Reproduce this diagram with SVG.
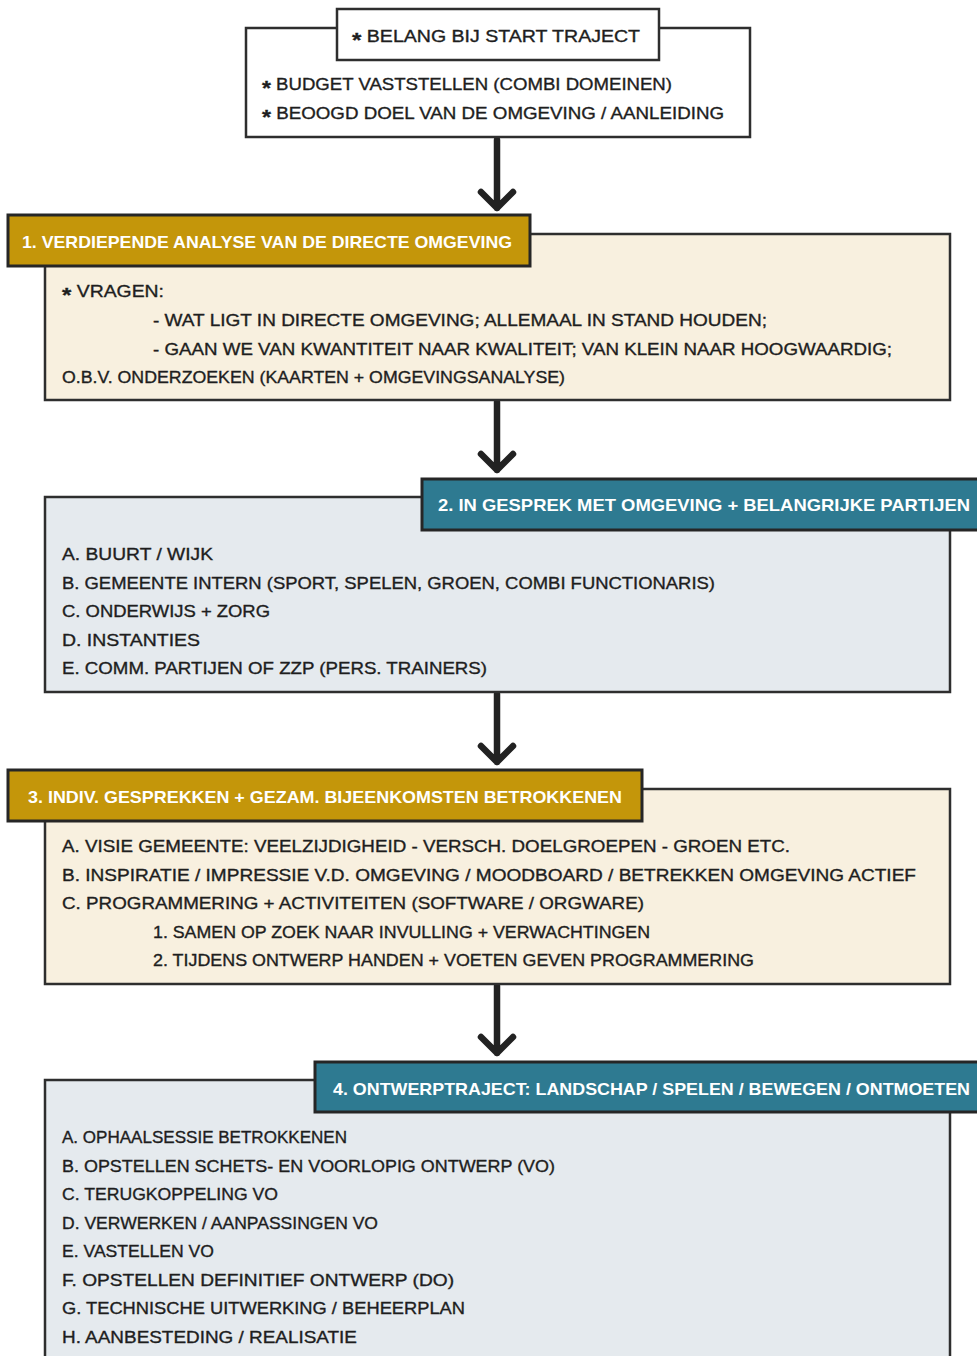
<svg xmlns="http://www.w3.org/2000/svg" width="977" height="1356" viewBox="0 0 977 1356">
<style>
.t{font-family:"Liberation Sans",Arial,sans-serif;font-size:17px;fill:#1e1e1e;stroke:#1e1e1e;stroke-width:0.35;}
.h{font-family:"Liberation Sans",Arial,sans-serif;font-size:17px;font-weight:bold;fill:#ffffff;}
.ast{font-size:21px;font-weight:bold;}
.box{stroke:#2e2e2e;stroke-width:2.5;}
.hdr{stroke:#262626;stroke-width:3;}
.cream{fill:#f8f0df;}
.grey{fill:#e5eaee;}
.gold{fill:#c4960a;}
.teal{fill:#2e7a91;}
.conn{fill:none;stroke:#222;stroke-width:6.5;stroke-linecap:round;stroke-linejoin:round;}
</style>
<rect width="977" height="1356" fill="#ffffff"/>
<g id="connectors">
<path class="conn" d="M497,140 V208 M481,192 L497,208 L513,192"/>
<path class="conn" d="M497,402 V470 M481,454 L497,470 L513,454"/>
<path class="conn" d="M497,694 V762 M481,746 L497,762 L513,746"/>
<path class="conn" d="M497,986 V1053 M481,1037 L497,1053 L513,1037"/>
</g>
<g id="start">
<rect x="246" y="28" width="504" height="109" fill="#ffffff" class="box"/>
<rect x="337" y="9" width="322" height="51" fill="#ffffff" class="box"/>
<text class="t" x="352" y="42" textLength="288" lengthAdjust="spacingAndGlyphs"><tspan class="ast" dy="5">*</tspan><tspan dy="-5"> BELANG BIJ START TRAJECT</tspan></text>
<text class="t" x="262" y="90" textLength="410" lengthAdjust="spacingAndGlyphs"><tspan class="ast" dy="5">*</tspan><tspan dy="-5"> BUDGET VASTSTELLEN (COMBI DOMEINEN)</tspan></text>
<text class="t" x="262" y="119" textLength="462" lengthAdjust="spacingAndGlyphs"><tspan class="ast" dy="5">*</tspan><tspan dy="-5"> BEOOGD DOEL VAN DE OMGEVING / AANLEIDING</tspan></text>
</g>
<g id="step1">
<rect x="45" y="234" width="905" height="166" class="box cream"/>
<rect x="8" y="215" width="522" height="51" class="hdr gold"/>
<text class="h" x="22" y="248" textLength="490" lengthAdjust="spacingAndGlyphs">1. VERDIEPENDE ANALYSE VAN DE DIRECTE OMGEVING</text>
<text class="t" x="62" y="297" textLength="102" lengthAdjust="spacingAndGlyphs"><tspan class="ast" dy="5">*</tspan><tspan dy="-5"> VRAGEN:</tspan></text>
<text class="t" x="153" y="326" textLength="614" lengthAdjust="spacingAndGlyphs">- WAT LIGT IN DIRECTE OMGEVING; ALLEMAAL IN STAND HOUDEN;</text>
<text class="t" x="153" y="355" textLength="739" lengthAdjust="spacingAndGlyphs">- GAAN WE VAN KWANTITEIT NAAR KWALITEIT;  VAN KLEIN NAAR HOOGWAARDIG;</text>
<text class="t" x="62" y="383" textLength="503" lengthAdjust="spacingAndGlyphs">O.B.V. ONDERZOEKEN (KAARTEN + OMGEVINGSANALYSE)</text>
</g>
<g id="step2">
<rect x="45" y="497" width="905" height="195" class="box grey"/>
<rect x="422" y="479" width="560" height="51" class="hdr teal"/>
<text class="h" x="438" y="511" textLength="532" lengthAdjust="spacingAndGlyphs">2. IN GESPREK MET OMGEVING + BELANGRIJKE PARTIJEN</text>
<text class="t" x="62" y="560" textLength="151" lengthAdjust="spacingAndGlyphs">A. BUURT / WIJK</text>
<text class="t" x="62" y="589" textLength="653" lengthAdjust="spacingAndGlyphs">B. GEMEENTE INTERN (SPORT, SPELEN, GROEN, COMBI FUNCTIONARIS)</text>
<text class="t" x="62" y="617" textLength="208" lengthAdjust="spacingAndGlyphs">C. ONDERWIJS + ZORG</text>
<text class="t" x="62" y="646" textLength="138" lengthAdjust="spacingAndGlyphs">D. INSTANTIES</text>
<text class="t" x="62" y="674" textLength="425" lengthAdjust="spacingAndGlyphs">E. COMM. PARTIJEN OF ZZP (PERS. TRAINERS)</text>
</g>
<g id="step3">
<rect x="45" y="789" width="905" height="195" class="box cream"/>
<rect x="8" y="770" width="634" height="51" class="hdr gold"/>
<text class="h" x="28" y="803" textLength="594" lengthAdjust="spacingAndGlyphs">3. INDIV. GESPREKKEN + GEZAM. BIJEENKOMSTEN BETROKKENEN</text>
<text class="t" x="62" y="852" textLength="728" lengthAdjust="spacingAndGlyphs">A. VISIE GEMEENTE: VEELZIJDIGHEID - VERSCH. DOELGROEPEN - GROEN ETC.</text>
<text class="t" x="62" y="881" textLength="854" lengthAdjust="spacingAndGlyphs">B. INSPIRATIE / IMPRESSIE V.D. OMGEVING / MOODBOARD / BETREKKEN OMGEVING ACTIEF</text>
<text class="t" x="62" y="909" textLength="582" lengthAdjust="spacingAndGlyphs">C. PROGRAMMERING + ACTIVITEITEN (SOFTWARE / ORGWARE)</text>
<text class="t" x="153" y="938" textLength="497" lengthAdjust="spacingAndGlyphs">1. SAMEN OP ZOEK NAAR INVULLING + VERWACHTINGEN</text>
<text class="t" x="153" y="966" textLength="601" lengthAdjust="spacingAndGlyphs">2. TIJDENS ONTWERP HANDEN + VOETEN GEVEN PROGRAMMERING</text>
</g>
<g id="step4">
<rect x="45" y="1080" width="905" height="290" class="box grey"/>
<rect x="315" y="1062" width="667" height="50" class="hdr teal"/>
<text class="h" x="333" y="1095" textLength="637" lengthAdjust="spacingAndGlyphs">4. ONTWERPTRAJECT: LANDSCHAP / SPELEN / BEWEGEN / ONTMOETEN</text>
<text class="t" x="62" y="1143" textLength="285" lengthAdjust="spacingAndGlyphs">A. OPHAALSESSIE BETROKKENEN</text>
<text class="t" x="62" y="1172" textLength="493" lengthAdjust="spacingAndGlyphs">B. OPSTELLEN SCHETS- EN VOORLOPIG ONTWERP (VO)</text>
<text class="t" x="62" y="1200" textLength="216" lengthAdjust="spacingAndGlyphs">C. TERUGKOPPELING VO</text>
<text class="t" x="62" y="1229" textLength="316" lengthAdjust="spacingAndGlyphs">D. VERWERKEN / AANPASSINGEN VO</text>
<text class="t" x="62" y="1257" textLength="152" lengthAdjust="spacingAndGlyphs">E. VASTELLEN VO</text>
<text class="t" x="62" y="1286" textLength="392" lengthAdjust="spacingAndGlyphs">F. OPSTELLEN DEFINITIEF ONTWERP (DO)</text>
<text class="t" x="62" y="1314" textLength="403" lengthAdjust="spacingAndGlyphs">G. TECHNISCHE UITWERKING / BEHEERPLAN</text>
<text class="t" x="62" y="1343" textLength="295" lengthAdjust="spacingAndGlyphs">H. AANBESTEDING / REALISATIE</text>
</g>
</svg>
